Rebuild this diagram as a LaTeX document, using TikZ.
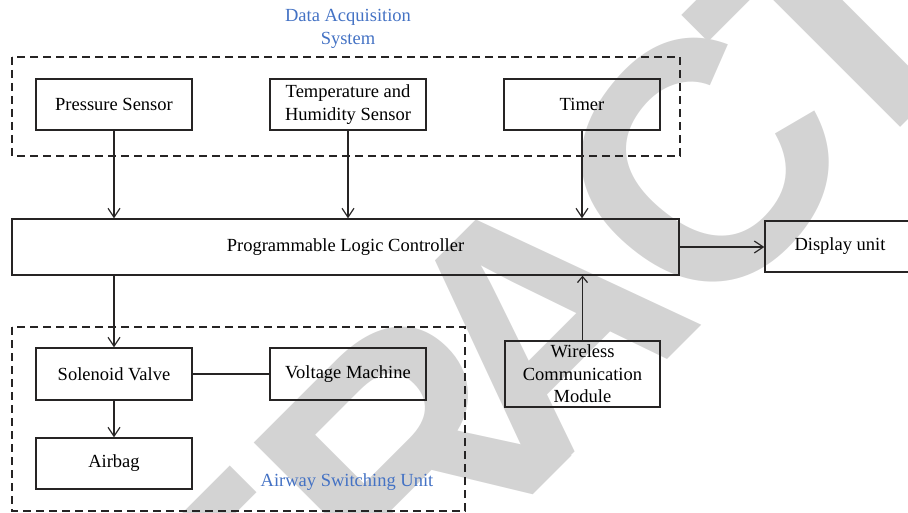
\documentclass[tikz,border=0pt]{standalone}
\usepackage{fontspec}
\setmainfont{Liberation Serif}
\newfontfamily\wmfont{Liberation Sans}
\usetikzlibrary{arrows.meta}
\definecolor{wmgray}{RGB}{211,211,211}
\definecolor{lblblue}{RGB}{68,114,196}
\definecolor{ink}{RGB}{38,36,36}
\begin{document}
\begin{tikzpicture}[x=1pt,y=-1pt,
  wmletter/.style={text=wmgray,inner sep=0pt,rotate=45,font=\wmfont\bfseries\fontsize{340}{340}\selectfont},
  box/.style={draw=ink,line width=1.3pt,inner sep=0pt,minimum width=156pt,minimum height=51pt,align=center,font=\fontsize{18.5}{23}\selectfont},
  grp/.style={draw=ink,line width=1.2pt,dash pattern=on 8pt off 5pt},
  lbl/.style={text=lblblue,align=center,font=\fontsize{18.5}{23}\selectfont},
  arr/.style={draw=ink,line width=1.2pt,-{Straight Barb[length=9pt,width=12pt]}},
  smallarr/.style={draw=ink,line width=1.2pt,-{Straight Barb[length=6pt,width=10pt]}},
  link/.style={draw=ink,line width=1.2pt}]
\useasboundingbox (0,0) rectangle (908,513);
\clip (0,0) rectangle (908,513);
% watermark (RETRACTED, only the visible letters)
\node[wmletter] (wmE) at (247,615) {E};
\node[wmletter] (wmR) at (408,455) {R};
\node[wmletter] (wmA) at (539,323) {A};
\node[wmletter,rotate=6] (wmC) at (702,165) {C};
\node[wmletter] (wmT) at (835,27) {T};
% groups
\draw[grp] (12,57) rectangle (680,156);
\draw[grp] (12,327) rectangle (465,511);
\node[lbl] (t1) at (348,28.5) {Data Acquisition\\System};
\node[lbl] (t2) at (347,482) {Airway Switching Unit};
% boxes
\node[box] (ps) at (114,104.5) {Pressure Sensor};
\node[box] (ths) at (348,104.5) {Temperature and\\Humidity Sensor};
\node[box] (tim) at (582,104.5) {Timer};
\node[box,minimum width=667pt,minimum height=56pt] (plc) at (345.5,247) {Programmable Logic Controller};
\node[box,minimum width=150pt] (disp) at (840,246.5) {Display unit};
\node[box,minimum height=52pt] (sv) at (114,374) {Solenoid Valve};
\node[box,minimum height=52pt] (vm) at (348,374) {Voltage Machine};
\node[box] (ab) at (114,463.5) {Airbag};
\node[box,minimum width=155pt,minimum height=66pt,font=\fontsize{18.5}{22.5}\selectfont] (wcm) at (582.5,374) {Wireless\\Communication\\Module};
% connectors
\draw[arr] (ps.south) -- (ps.south |- plc.north);
\draw[arr] (ths.south) -- (ths.south |- plc.north);
\draw[arr] (tim.south) -- (tim.south |- plc.north);
\draw[arr] (plc.east) -- (plc.east -| disp.west);
\draw[arr] (sv.north |- plc.south) -- (sv.north);
\draw[link] (sv.east) -- (vm.west);
\draw[arr] (sv.south) -- (ab.north);
\draw[smallarr] (wcm.north) -- (wcm.north |- plc.south);
\end{tikzpicture}
\end{document}
